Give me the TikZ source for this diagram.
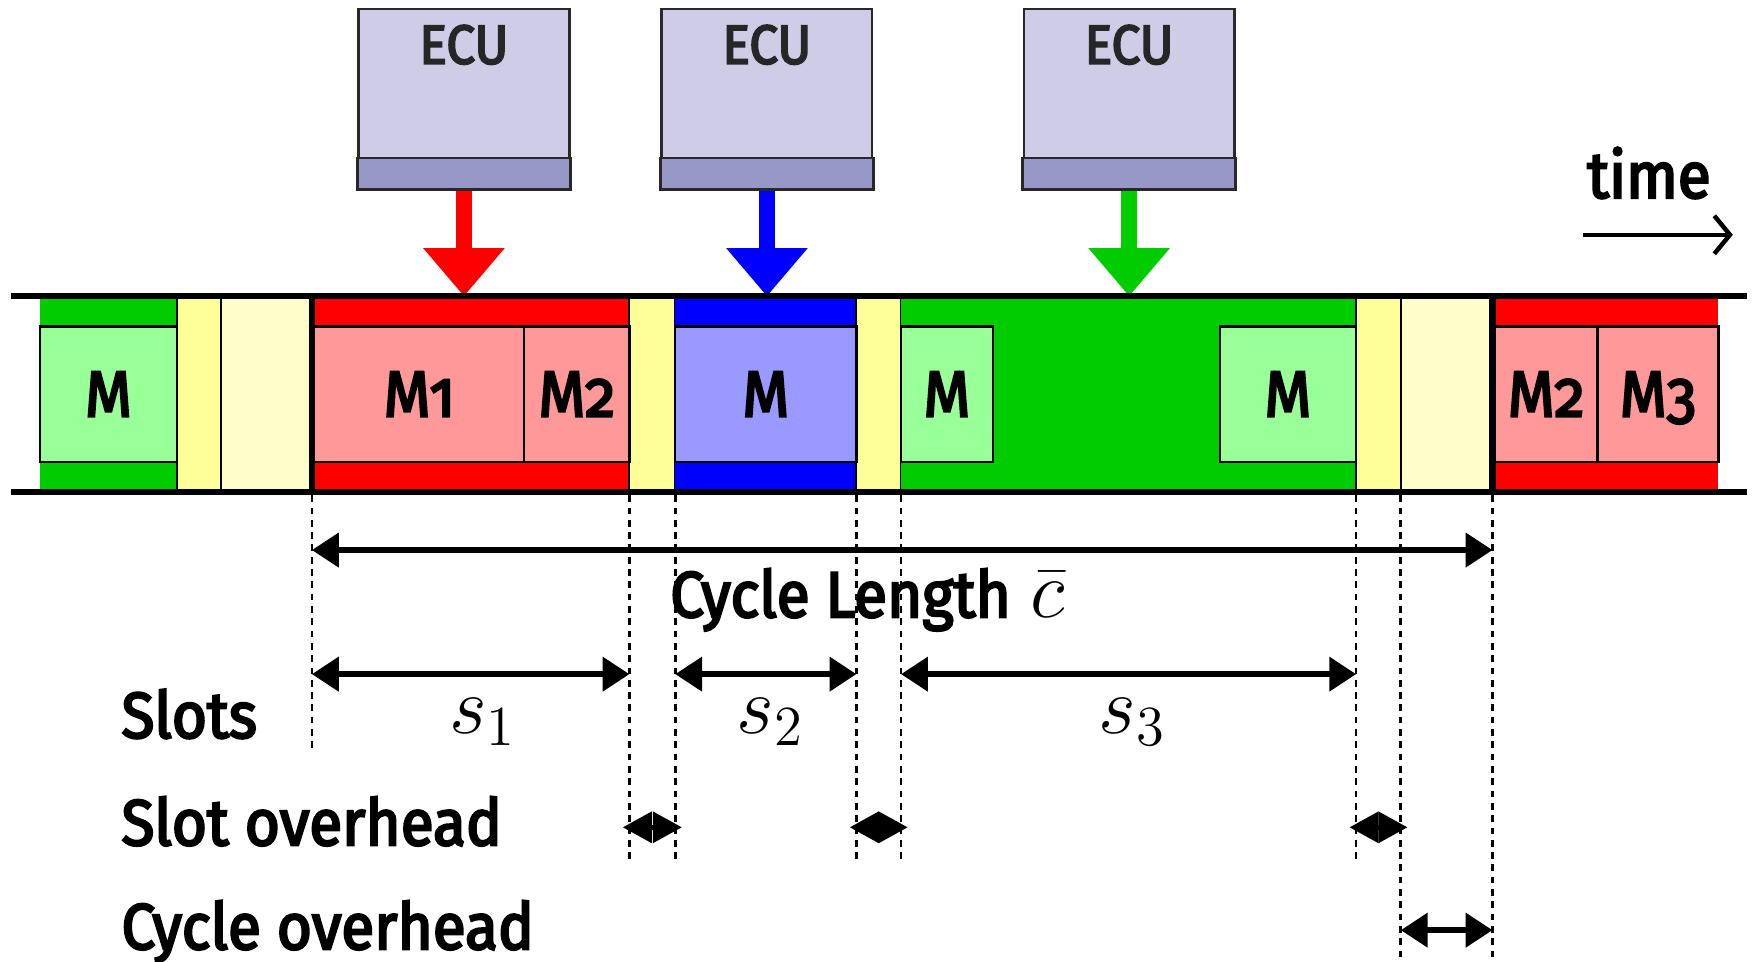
\documentclass[tikz,border=0pt]{standalone}
\usepackage{fontspec}
\setmainfont{Fira Sans}[Numbers=OldStyle]
\newfontfamily\semib{Fira Sans}[Numbers=OldStyle, FakeBold=3.5, FakeStretch=0.93]
\usetikzlibrary{arrows.meta}
\definecolor{gbar}{RGB}{0,204,0}
\definecolor{gmsg}{RGB}{153,255,153}
\definecolor{rbar}{RGB}{255,0,0}
\definecolor{rmsg}{RGB}{255,153,153}
\definecolor{bbar}{RGB}{0,0,255}
\definecolor{bmsg}{RGB}{153,153,255}
\definecolor{sover}{RGB}{255,255,153}
\definecolor{cover}{RGB}{255,255,204}
\definecolor{ecubody}{RGB}{206,204,230}
\definecolor{ecuband}{RGB}{151,151,200}
\definecolor{ecuedge}{RGB}{40,40,40}
\newcommand\lblfont{\fontsize{16.5}{19}\selectfont\semib}
\newcommand\msgfont{\fontsize{16.5}{19}\selectfont\semib}
\newcommand\ecufont{\fontsize{14}{16}\selectfont\semib}
\newcommand\mathsz{\fontsize{21}{25}\selectfont}
\begin{document}
\begin{tikzpicture}[x=0.01cm,y=-0.01cm,
  bus/.style={line width=0.05cm},
  slotfill/.style={draw=black, line width=0.5pt},
  msgbox/.style={draw=black, line width=0.6pt, inner sep=0pt, minimum height=1.21cm, text depth=0pt, font=\msgfont},
  bound/.style={line width=0.055cm},
  guide/.style={line width=0.7pt, dash pattern=on 0.06cm off 0.05cm},
  dimarrow/.style={line width=0.05cm, {Triangle[length=0.24cm,width=0.3cm]}-{Triangle[length=0.24cm,width=0.3cm]}},
  ovharrow/.style={line width=0.05cm, shorten <=-0.06cm, shorten >=-0.06cm, {Triangle[length=0.26cm,width=0.27cm]}-{Triangle[length=0.26cm,width=0.27cm]}},
  ecubox/.style={draw=ecuedge, line width=0.025cm, fill=ecubody, minimum width=1.88cm, minimum height=1.6cm, inner sep=0pt},
  ecutext/.style={font=\ecufont, text=black!85, anchor=base, inner sep=0pt},
  ecuarrow/.style={line width=0.14cm, -{Triangle[length=0.43cm,width=0.7cm]}},
  lbl/.style={font=\lblfont, anchor=base west, inner sep=0pt},
  mlbl/.style={font=\mathsz, anchor=base, inner sep=0pt},
]
\useasboundingbox (0,0) rectangle (1568,860);

% ---- ECUs ----
\foreach \n/\x/\c in {1/415/rbar,2/686/bbar,3/1010/gbar}{
  \node[ecubox] (ecu\n) at (\x,88) {};
  \draw[ecuedge, line width=0.025cm, fill=ecuband] ([yshift=0.28cm]ecu\n.south west) rectangle (ecu\n.south east);
  \node[ecutext] (ecul\n) at (\x,57) {ECU};
  \coordinate (tip\n) at (\x,265);
  \draw[ecuarrow, \c] ([yshift=-0.012cm]ecu\n.south) -- (tip\n);
}

% ---- bus slots ----
\fill[gbar] (36,265) rectangle (158,440);
\draw[slotfill, fill=sover] (158,265) rectangle (198,440);
\draw[slotfill, fill=cover] (198,265) rectangle (279,440);
\fill[rbar] (279,265) rectangle (563,440);
\draw[slotfill, fill=sover] (563,265) rectangle (604,440);
\fill[bbar] (604,265) rectangle (766,440);
\draw[slotfill, fill=sover] (766,265) rectangle (806,440);
\fill[gbar] (806,265) rectangle (1213,440);
\draw[slotfill, fill=sover] (1213,265) rectangle (1253,440);
\draw[slotfill, fill=cover] (1253,265) rectangle (1335,440);
\fill[rbar] (1335,265) rectangle (1537,440);

% ---- messages ----
\node[msgbox, fill=gmsg, minimum width=1.22cm] (m0) at (97,352.5) {M};
\node[msgbox, fill=rmsg, minimum width=1.88cm] (m1) at (375,352.5) {M1};
\node[msgbox, fill=rmsg, minimum width=0.94cm] (m2) at (516,352.5) {M2};
\node[msgbox, fill=bmsg, minimum width=1.62cm] (mb) at (685,352.5) {M};
\node[msgbox, fill=gmsg, minimum width=0.82cm] (mg1) at (847,352.5) {M};
\node[msgbox, fill=gmsg, minimum width=1.22cm] (mg2) at (1152,352.5) {M};
\node[msgbox, fill=rmsg, minimum width=0.92cm] (m2b) at (1383,352.5) {M2};
\node[msgbox, fill=rmsg, minimum width=1.08cm] (m3) at (1483,352.5) {M3};

% ---- cycle boundaries ----
\coordinate (c0t) at (279,265); \coordinate (c0) at (279,440);
\coordinate (c1t) at (1335,265); \coordinate (c1) at (1335,440);
\draw[bound] (c0t) -- (c0);
\draw[bound] (c1t) -- (c1);

% ---- bus lines ----
\coordinate (busL1) at (10,265); \coordinate (busR1) at (1563,265);
\coordinate (busL2) at (10,440); \coordinate (busR2) at (1563,440);
\draw[bus] (busL1) -- (busR1);
\draw[bus] (busL2) -- (busR2);

% ---- guides ----
\coordinate (g1) at (563,440); \coordinate (g2) at (604,440);
\coordinate (g3) at (766,440); \coordinate (g4) at (806,440);
\coordinate (g5) at (1213,440); \coordinate (g6) at (1253,440);
\draw[guide] ([yshift=-0.03cm]c0) -- (279,672);
\foreach \g/\x in {g1/563,g2/604,g3/766,g4/806,g5/1213}{
  \draw[guide] ([yshift=-0.03cm]\g) -- (\x,772);
}
\draw[guide] ([yshift=-0.03cm]g6) -- (1253,860);
\draw[guide] ([yshift=-0.03cm]c1) -- (1335,860);

% ---- dimension arrows ----
\coordinate (cl0) at (279,492); \coordinate (cl1) at (1335,492);
\draw[dimarrow] (cl0) -- (cl1);
\node[anchor=base, inner sep=0pt] (cltext) at (776,552) {{\lblfont Cycle Length}\hspace{0.5em}{\mathsz$\bar{c}$}};

\coordinate (s1a) at (279,603); \coordinate (s1b) at (563,603);
\coordinate (s2a) at (604,603); \coordinate (s2b) at (766,603);
\coordinate (s3a) at (806,603); \coordinate (s3b) at (1213,603);
\draw[dimarrow] (s1a) -- (s1b);
\draw[dimarrow] (s2a) -- (s2b);
\draw[dimarrow] (s3a) -- (s3b);
\node[mlbl] (s1) at (432,656) {$s_1$};
\node[mlbl] (s2) at (689,656) {$s_2$};
\node[mlbl] (s3) at (1013,656) {$s_3$};

\coordinate (o1a) at (563,740); \coordinate (o1b) at (604,740);
\coordinate (o2a) at (766,740); \coordinate (o2b) at (806,740);
\coordinate (o3a) at (1213,740); \coordinate (o3b) at (1253,740);
\draw[ovharrow] (o1a) -- (o1b);
\draw[ovharrow] (o2a) -- (o2b);
\draw[ovharrow] (o3a) -- (o3b);

\coordinate (co1) at (1253,832); \coordinate (co2) at (1335,832);
\draw[dimarrow] (co1) -- (co2);

% ---- left labels ----
\node[lbl] (lslots) at (108,660) {Slots};
\node[lbl] (lso) at (108,756) {Slot overhead};
\node[lbl] (lco) at (108,849) {Cycle overhead};

% ---- time ----
\node[font=\lblfont, anchor=base, inner sep=0pt] (ltime) at (1475,177) {time};
\coordinate (ta) at (1416,210); \coordinate (tb) at (1550,210);
\draw[line width=0.04cm, -{Straight Barb[length=0.14cm,width=0.34cm]}] (ta) -- (tb);
\end{tikzpicture}
\end{document}
